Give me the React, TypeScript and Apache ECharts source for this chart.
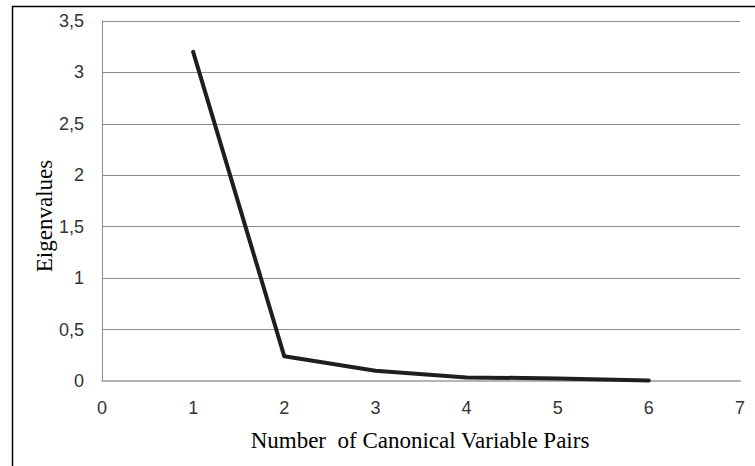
import React, { useEffect, useRef } from "react";
import * as echarts from "echarts";

const pairs = [1, 2, 3, 4, 5, 6];
const eigenvalues = [3.2, 0.24, 0.1, 0.035, 0.025, 0.005];

export default function App() {
  const ref = useRef<HTMLDivElement>(null);
  useEffect(() => {
    if (!ref.current) return;
    const chart = echarts.init(ref.current, undefined, { renderer: "svg" });
    chart.setOption({
      animation: false,
      backgroundColor: "#ffffff",
      grid: { left: 102, top: 21, right: 15, bottom: 85, containLabel: false },
      graphic: [
        {
          type: "rect",
          shape: { x: 12.5, y: 6.5, width: 800, height: 500 },
          style: { fill: "none", stroke: "#000000", lineWidth: 1.5 },
          silent: true,
        },
        {
          type: "text",
          x: 44,
          y: 216,
          rotation: Math.PI / 2,
          style: {
            text: "Eigenvalues",
            font: '23px "Liberation Serif", "Times New Roman", serif',
            fill: "#000000",
            align: "center",
            verticalAlign: "middle",
          },
        },
        {
          type: "text",
          x: 420,
          y: 440,
          style: {
            text: "Number  of Canonical Variable Pairs",
            font: '23px "Liberation Serif", "Times New Roman", serif',
            fill: "#000000",
            align: "center",
            verticalAlign: "middle",
          },
        },
      ],
      xAxis: {
        type: "value",
        min: 0,
        max: 7,
        interval: 1,
        axisLine: { show: true, lineStyle: { color: "#b4b4b4", width: 2 } },
        axisTick: { show: false },
        splitLine: { show: false },
        axisLabel: {
          fontFamily: "Liberation Sans",
          fontSize: 18,
          color: "#333333",
          margin: 18,
        },
      },
      yAxis: {
        type: "value",
        min: 0,
        max: 3.5,
        interval: 0.5,
        axisLine: { show: true, lineStyle: { color: "#8c8c8c", width: 1 } },
        axisTick: { show: false },
        splitLine: { show: true, lineStyle: { color: "#8c8c8c", width: 1 } },
        axisLabel: {
          fontFamily: "Liberation Sans",
          fontSize: 18,
          color: "#333333",
          margin: 18,
          formatter: (v: number) => String(v).replace(".", ","),
        },
      },
      series: [
        {
          type: "line",
          data: pairs.map((p, i) => [p, eigenvalues[i]]),
          showSymbol: false,
          symbol: "none",
          lineStyle: { color: "#1e1e1e", width: 4, cap: "round", join: "round" },
          z: 5,
        },
      ],
    });
    return () => chart.dispose();
  }, []);
  return (
    <div
      ref={ref}
      style={{ position: "absolute", left: 0, top: 0, width: 755, height: 466 }}
    />
  );
}
